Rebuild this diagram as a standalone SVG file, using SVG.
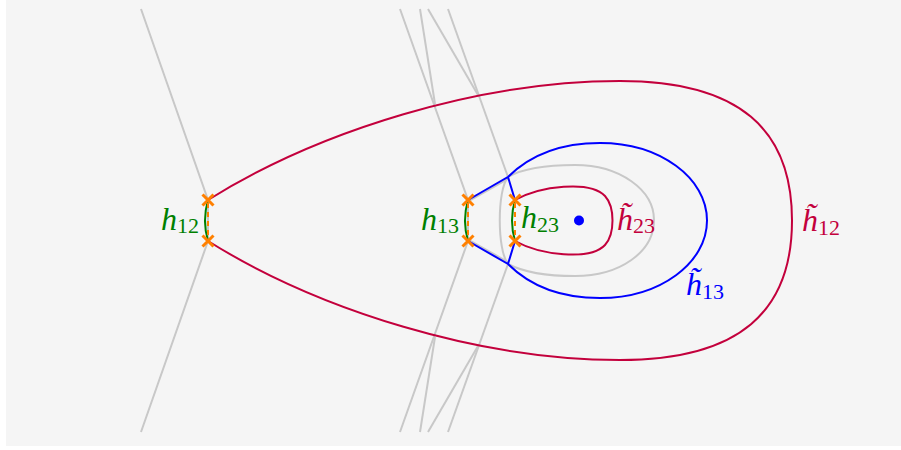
<svg xmlns="http://www.w3.org/2000/svg" width="901" height="450" viewBox="0 0 901 450">
<style>
.g{fill:none;stroke:#c8c8c8;stroke-width:2}
.r{fill:none;stroke:#c3003c;stroke-width:2}
.b{fill:none;stroke:#0000ff;stroke-width:2}
.gr{fill:none;stroke:#008000;stroke-width:2}
.od{fill:none;stroke:#ff8000;stroke-width:2;stroke-dasharray:5 4}
.x{fill:none;stroke:#ff8000;stroke-width:3}
.lbl{font-family:"Liberation Serif",serif;font-style:italic;font-size:32px}
.sub{font-style:normal;font-size:22px}
</style>
<defs>
<path id="cross" class="x" d="M-5.5,-5.5 L5.5,5.5 M-5.5,5.5 L5.5,-5.5"/>
</defs>
<rect x="6" y="0" width="895" height="446" fill="#f5f5f5"/>
<g id="connectors">
<g id="gray-lines">
<path class="g" d="M141,9 L208,200 L208,241 L141,432"/>
<path class="g" d="M400,9 L468,200 L468,241 L400,432"/>
<path class="g" d="M420,9 L435,104"/>
<path class="g" d="M420,432 L435,337"/>
<path class="g" d="M448,9 L508,177"/>
<path class="g" d="M448,432 L508,264"/>
<path class="g" d="M428,9 L478,95"/>
<path class="g" d="M428,432 L478,346"/>
<path class="g" d="M469,201 L508,179"/>
<path class="g" d="M469,240 L508,262"/>
<path class="g" d="M508,177 C525,167 550,165 575,165 C620,165 654,190 654,220 C654,252 620,276 575,276 C550,276 525,273 508,264 C497,250 497,190 508,177 Z"/>
</g>
<path id="h12t" class="r" d="M208,200 C320,130 480,81 620,81 C740,81 792,130 792,220.5 C792,311 740,360 620,360 C480,360 320,311 208,241"/>
<path id="h23t" class="r" d="M515,200 C540,186 590,180 605,196 C615,207 615,234 605,245 C590,261 540,255 515,241"/>
<path id="h13t" class="b" d="M468,200 L508,177 L515,200 M508,177 C535,150 570,143 600,143 C660,143 707,178 707,220.5 C707,263 660,298 600,298 C570,298 535,291 508,264 L468,241 M508,264 L515,241"/>
<path class="gr" d="M208,200 Q202,220.5 208,241"/>
<path class="gr" d="M468,200 Q462,220.5 468,241"/>
<path class="gr" d="M515,200 Q509,220.5 515,241"/>
<path class="od" d="M208,203 L208,238"/>
<path class="od" d="M468,203 L468,238"/>
<path class="od" d="M515,203 L515,238"/>
</g>
<g id="n-h12">
<use href="#cross" x="208" y="200"/>
<use href="#cross" x="208" y="241"/>
<text class="lbl" x="161" y="230" fill="#008000">h<tspan class="sub" dy="3">12</tspan></text>
</g>
<g id="n-h13">
<use href="#cross" x="468" y="200"/>
<use href="#cross" x="468" y="241"/>
<text class="lbl" x="421" y="230" fill="#008000">h<tspan class="sub" dy="3">13</tspan></text>
</g>
<g id="n-h23">
<use href="#cross" x="515" y="200"/>
<use href="#cross" x="515" y="241"/>
<text class="lbl" x="521" y="228" fill="#008000">h<tspan class="sub" dy="4">23</tspan></text>
</g>
<g id="center">
<circle cx="579" cy="220.5" r="5" fill="#0000ff"/>
</g>
<g id="labels-tilde">
<text class="lbl" x="617" y="230" fill="#c3003c">h̃<tspan class="sub" dy="3">23</tspan></text>
<text class="lbl" x="802" y="231" fill="#c3003c">h̃<tspan class="sub" dy="4">12</tspan></text>
<text class="lbl" x="686" y="295" fill="#0000ff">h̃<tspan class="sub" dy="4">13</tspan></text>
</g>
</svg>
